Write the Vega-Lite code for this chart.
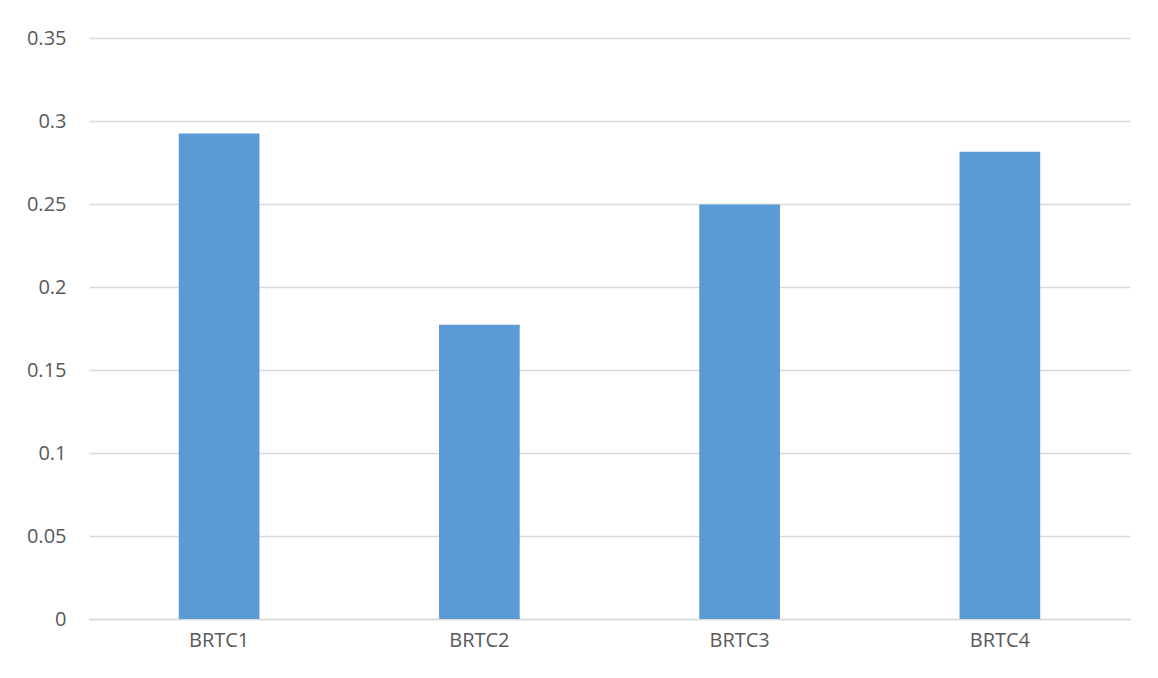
{
  "$schema": "https://vega.github.io/schema/vega-lite/v6.json",
  "width": 1041,
  "height": 581,
  "autosize": "none",
  "padding": {"left": 89, "top": 38, "right": 28, "bottom": 59},
  "background": "white",
  "config": {"view": {"stroke": null}, "font": "Open Sans"},
  "data": {"values": [
    {"name": "BRTC1", "value": 0.2925},
    {"name": "BRTC2", "value": 0.1772},
    {"name": "BRTC3", "value": 0.2497},
    {"name": "BRTC4", "value": 0.2815}
  ]},
  "mark": {"type": "bar", "color": "#5B9BD5"},
  "encoding": {
    "x": {
      "field": "name", "type": "nominal", "sort": null,
      "scale": {"paddingInner": 0.69, "paddingOuter": 0.345},
      "axis": {"title": null, "labelAngle": 0, "labelFontSize": 20, "labelColor": "#595959", "ticks": false, "domain": true, "domainColor": "#D9D9D9", "domainWidth": 1.5, "labelPadding": 11, "grid": false}
    },
    "y": {
      "field": "value", "type": "quantitative",
      "scale": {"domain": [0, 0.35], "nice": false},
      "axis": {"title": null, "values": [0, 0.05, 0.1, 0.15, 0.2, 0.25, 0.3, 0.35], "format": "~g", "labelFontSize": 20, "labelColor": "#595959", "ticks": false, "domain": false, "gridColor": "#D9D9D9", "gridWidth": 1.5, "labelPadding": 23}
    }
  }
}
